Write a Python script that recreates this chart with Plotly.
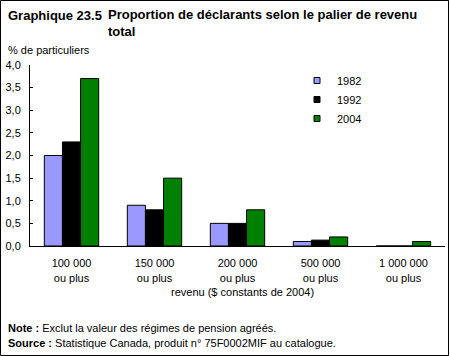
import plotly.graph_objects as go

categories = ["100 000<br>ou plus", "150 000<br>ou plus", "200 000<br>ou plus",
              "500 000<br>ou plus", "1 000 000<br>ou plus"]
years = ["1982", "1992", "2004"]
v1982 = [2.0, 0.9, 0.5, 0.1, 0.0]
v1992 = [2.3, 0.8, 0.5, 0.13, 0.0]
v2004 = [3.7, 1.5, 0.8, 0.2, 0.1]
colors = ["#9999FF", "#000000", "#008000"]
yticks = [0, 0.5, 1.0, 1.5, 2.0, 2.5, 3.0, 3.5, 4.0]

W, H = 450, 356
L, R, T, B = 30, 5, 65, 110
PW, PH = W - L - R, H - T - B

def px(x):
    return (x - L) / PW

def py(y):
    return (H - B - y) / PH

FONT = "Liberation Sans, Arial, sans-serif"

fig = go.Figure()
for name, vals, col in zip(years, [v1982, v1992, v2004], colors):
    fig.add_trace(go.Bar(x=categories, y=vals, name=name, marker_color=col,
                         marker_line_color="black", marker_line_width=1,
                         showlegend=False))
for name, col in zip(years, colors):
    fig.add_trace(go.Scatter(x=[None], y=[None], mode="markers", name=name,
                             marker=dict(symbol="square", size=6, color=col,
                                         line=dict(color="black", width=1))))

ann = [
    dict(text="<b>Graphique 23.5</b>", x=px(6), y=py(15), xanchor="left", yanchor="middle", font=dict(size=13)),
    dict(text="<b>Proportion de déclarants selon le palier de revenu<br>total</b>", x=px(106), y=py(5), xanchor="left", yanchor="top", align="left", font=dict(size=13)),
    dict(text="% de particuliers", x=px(6), y=py(50), xanchor="left", yanchor="middle", font=dict(size=11)),
    dict(text="revenu ($ constants de 2004)", x=px(242), y=py(292), xanchor="center", yanchor="middle", font=dict(size=11)),
    dict(text="<b>Note :</b> Exclut la valeur des régimes de pension agréés.", x=px(6), y=py(328), xanchor="left", yanchor="middle", font=dict(size=11)),
    dict(text="<b>Source :</b> Statistique Canada, produit n° 75F0002MIF au catalogue.", x=px(6), y=py(343), xanchor="left", yanchor="middle", font=dict(size=11)),
]
for a in ann:
    a.update(xref="paper", yref="paper", showarrow=False)

fig.update_layout(
    width=W, height=H,
    margin=dict(l=L, r=R, t=T, b=B),
    paper_bgcolor="white", plot_bgcolor="white",
    font=dict(family=FONT, size=11, color="black"),
    separators=", ",
    barmode="group", bargap=0.345, bargroupgap=0,
    showlegend=True,
    legend=dict(x=px(297), y=py(66), xanchor="left", yanchor="top",
                bgcolor="rgba(0,0,0,0)", font=dict(size=11), tracegroupgap=0),
    annotations=ann,
    shapes=[dict(type="rect", xref="paper", yref="paper",
                 x0=px(0.5), x1=px(448.5), y0=py(0.5), y1=py(355.5),
                 line=dict(color="black", width=1), layer="above")],
)
fig.update_yaxes(range=[0, 4], tickvals=yticks, tickformat=".1f",
                 showline=True, linecolor="black", linewidth=1,
                 ticks="inside", ticklen=3, tickcolor="black",
                 showgrid=False, zeroline=False, ticklabelstandoff=6,
                 tickfont=dict(size=11))
fig.update_xaxes(showline=True, linecolor="black", linewidth=1,
                 ticks="", showgrid=False, tickfont=dict(size=11),
                 ticklabelstandoff=7)
fig.write_html("out.html")
